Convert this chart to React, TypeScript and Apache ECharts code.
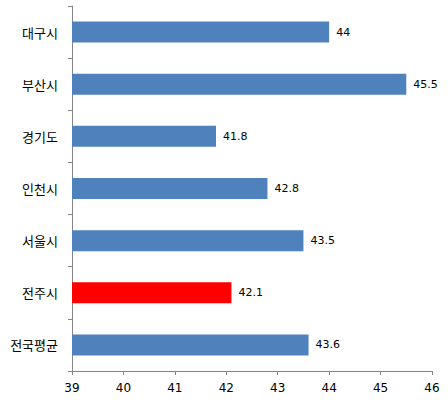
import React, { useEffect, useRef } from "react";
import * as echarts from "echarts";

const categories = ["대구시", "부산시", "경기도", "인천시", "서울시", "전주시", "전국평균"];
const values = [44, 45.5, 41.8, 42.8, 43.5, 42.1, 43.6];
const highlight = "전주시";
const xTicks = { min: 39, max: 46, interval: 1 };

export default function App() {
  const ref = useRef<HTMLDivElement>(null);
  useEffect(() => {
    if (!ref.current) return;
    const chart = echarts.init(ref.current, null, { renderer: "svg" });
    const axisColor = "#868686";
    chart.setOption({
      animation: false,
      backgroundColor: "#ffffff",
      grid: { left: 72, right: 16, top: 6, bottom: 31, containLabel: false },
      xAxis: {
        type: "value",
        min: xTicks.min,
        max: xTicks.max,
        interval: xTicks.interval,
        splitLine: { show: false },
        axisLine: { show: true, lineStyle: { color: axisColor, width: 1 } },
        axisTick: { show: true, length: 4, lineStyle: { color: axisColor } },
        axisLabel: {
          color: "#000",
          fontSize: 12,
          fontFamily: "DejaVu Sans",
          margin: 11,
        },
      },
      yAxis: {
        type: "category",
        inverse: true,
        data: categories,
        axisLine: { show: true, lineStyle: { color: axisColor, width: 1 } },
        axisTick: { show: true, length: 4, lineStyle: { color: axisColor } },
        axisLabel: {
          color: "#000",
          fontSize: 13,
          fontFamily: "Noto Sans CJK KR",
          margin: 14,
        },
      },
      series: [
        {
          type: "bar",
          barWidth: 21,
          data: values.map((v, i) => ({
            value: v,
            itemStyle: { color: categories[i] === highlight ? "#FF0000" : "#4F81BD" },
          })),
          label: {
            show: true,
            position: "right",
            distance: 7,
            color: "#000",
            fontSize: 11,
            fontFamily: "DejaVu Sans",
          },
        },
      ],
    });
    return () => chart.dispose();
  }, []);
  return <div ref={ref} style={{ width: 448, height: 402, position: "absolute", left: 0, top: 0 }} />;
}
